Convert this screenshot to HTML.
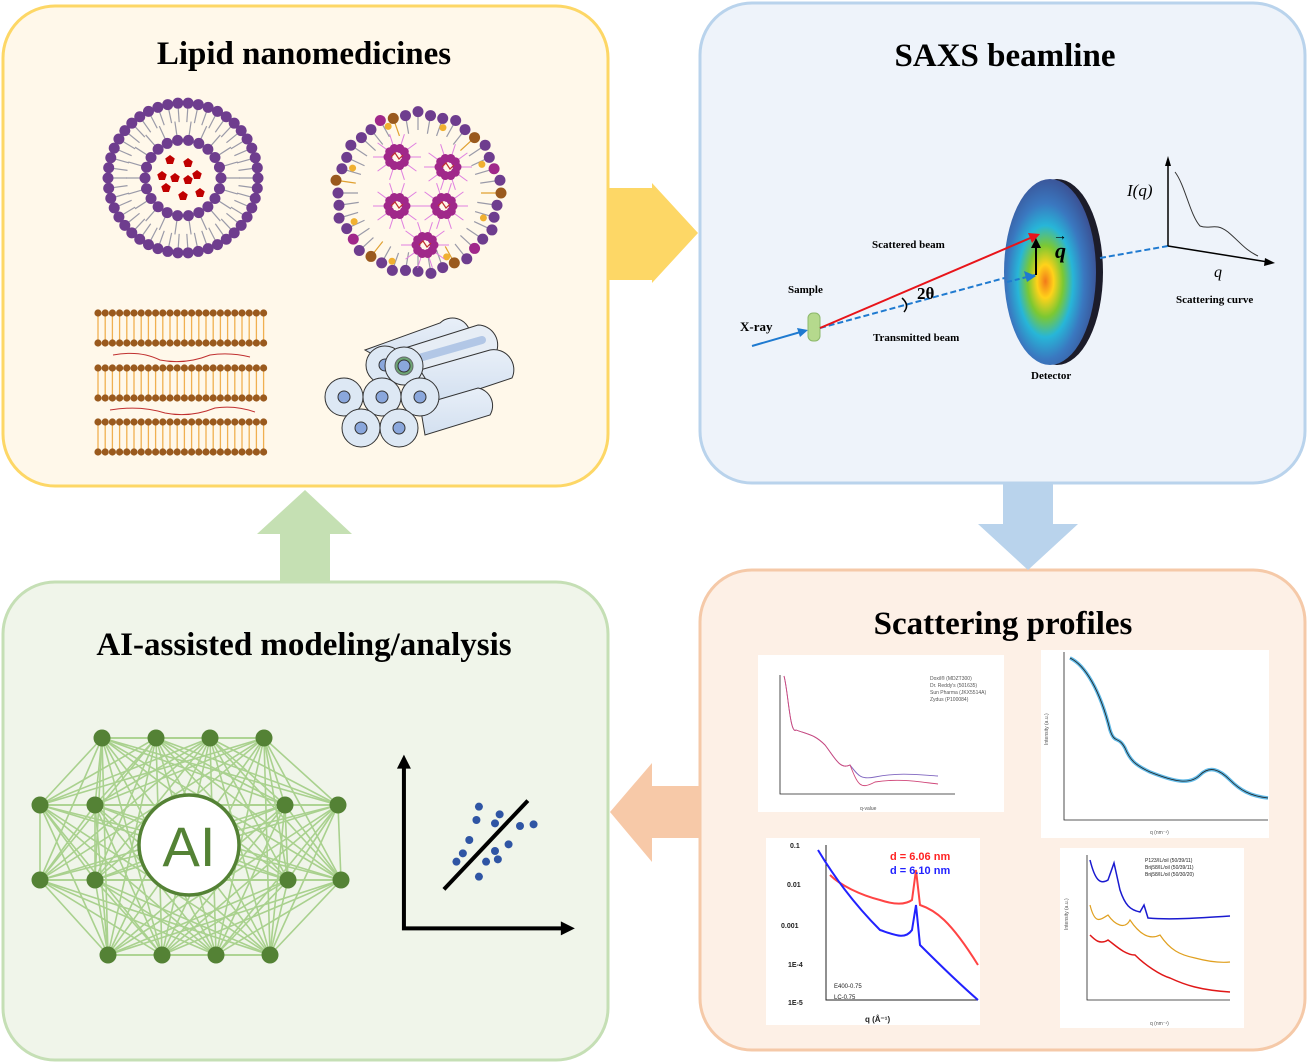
<!DOCTYPE html>
<html><head><meta charset="utf-8">
<style>
html,body{margin:0;padding:0;background:#fff;}
svg{display:block;}
.t{font-family:"Liberation Serif",serif;font-weight:bold;}
.s{font-family:"Liberation Sans",sans-serif;}
</style></head>
<body>
<svg id="sv" width="1308" height="1064" viewBox="0 0 1308 1064" xmlns="http://www.w3.org/2000/svg">
<defs>
<radialGradient id="det" cx="0.45" cy="0.55" r="0.6">
<stop offset="0" stop-color="#f27a1a"/>
<stop offset="0.15" stop-color="#ffd21a"/>
<stop offset="0.32" stop-color="#7cc832"/>
<stop offset="0.5" stop-color="#27b6d8"/>
<stop offset="0.7" stop-color="#3a78c0"/>
<stop offset="1" stop-color="#3b4a8c"/>
</radialGradient>
<linearGradient id="cyl" x1="0" y1="0" x2="0" y2="1"><stop offset="0" stop-color="#e8eff8"/><stop offset="1" stop-color="#d3e0f0"/></linearGradient>
</defs>
<rect x="3" y="6" width="605" height="480" rx="52" fill="#fff8ea" stroke="#fdd766" stroke-width="3"/>
<rect x="700" y="3" width="605" height="480" rx="52" fill="#eef3fa" stroke="#b9d3ec" stroke-width="3"/>
<rect x="700" y="570" width="605" height="480" rx="52" fill="#fdf0e6" stroke="#f5c9a8" stroke-width="3"/>
<rect x="3" y="582" width="605" height="478" rx="52" fill="#f0f5ea" stroke="#c5dfb5" stroke-width="3"/>
<polygon points="608,188 652,188 652,183 698,233 652,283 652,280 608,280" fill="#fdd766"/>
<polygon points="1003,484 1053,484 1053,524 1078,524 1028,570 978,524 1003,524" fill="#b9d3ec"/>
<polygon points="700,786 652,786 652,763 610,812 652,862 652,838 700,838" fill="#f7c9a8"/>
<polygon points="280,582 330,582 330,534 352,534 305,490 257,534 280,534" fill="#c5e0b3"/>
<text class="t" x="304" y="64" font-size="33" text-anchor="middle">Lipid nanomedicines</text>
<text class="t" x="1005" y="66" font-size="33" text-anchor="middle">SAXS beamline</text>
<text class="t" x="1003" y="634" font-size="33" text-anchor="middle">Scattering profiles</text>
<text class="t" x="304" y="655" font-size="33" text-anchor="middle">AI-assisted modeling/analysis</text>
<g id="g1"></g>
<g stroke="#333" stroke-width="1">
<path d="M365,350 L440,323 A18,18 0 0 1 470,340 L395,367 Z" fill="url(#cyl)"/>
<path d="M405,348 L478,325 A20,20 0 0 1 495,355 L420,380 Z" fill="#e6edf5"/>
<path d="M420,370 L490,350 A20,20 0 0 1 512,378 L440,402 Z" fill="url(#cyl)"/>
<path d="M420,405 L478,388 A18,18 0 0 1 490,415 L425,435 Z" fill="url(#cyl)"/>
<line x1="405" y1="362" x2="482" y2="340" stroke="#b2c7e6" stroke-width="8" stroke-linecap="round"/>
<circle cx="385" cy="365" r="19" fill="#dde8f4"/><circle cx="385" cy="365" r="6" fill="#8aa7dc"/>
<circle cx="404" cy="366" r="19" fill="#dde8f4"/><circle cx="404" cy="366" r="9" fill="#3e8a3e" opacity="0.7"/><circle cx="404" cy="366" r="6" fill="#8aa7dc"/>
<circle cx="344" cy="397" r="19" fill="#dde8f4"/><circle cx="344" cy="397" r="6" fill="#8aa7dc"/>
<circle cx="420" cy="397" r="19" fill="#dde8f4"/><circle cx="420" cy="397" r="6" fill="#8aa7dc"/>
<circle cx="382" cy="397" r="19" fill="#dde8f4"/><circle cx="382" cy="397" r="6" fill="#8aa7dc"/>
<circle cx="361" cy="428" r="19" fill="#dde8f4"/><circle cx="361" cy="428" r="6" fill="#8aa7dc"/>
<circle cx="399" cy="428" r="19" fill="#dde8f4"/><circle cx="399" cy="428" r="6" fill="#8aa7dc"/>
</g>
<line x1="752" y1="346" x2="804" y2="331" stroke="#1f7ad0" stroke-width="2"/>
<polygon points="808,330 797,328 800,337" fill="#1f7ad0"/>
<rect x="808" y="313" width="12" height="28" rx="5" fill="#b5d98d" stroke="#8cb86a"/>
<line x1="820" y1="328" x2="1012" y2="276" stroke="#1f7ad0" stroke-width="2" stroke-dasharray="6,3"/>
<ellipse cx="1057" cy="272" rx="46" ry="93" fill="#1c1c2a"/>
<ellipse cx="1050" cy="272" rx="46" ry="93" fill="url(#det)"/>
<line x1="1100" y1="258" x2="1168" y2="246" stroke="#1f7ad0" stroke-width="2" stroke-dasharray="6,3"/>
<line x1="1007" y1="282" x2="1035" y2="275" stroke="#1f7ad0" stroke-width="2" stroke-dasharray="5,3"/>
<polygon points="1036,276 1024,271 1027,282" fill="#1f7ad0"/>
<line x1="820" y1="328" x2="1035" y2="236" stroke="#e8141a" stroke-width="2"/>
<polygon points="1040,234 1028,233 1032,243" fill="#e8141a"/>
<line x1="1036" y1="275" x2="1036" y2="246" stroke="#000" stroke-width="2"/>
<polygon points="1036,238 1031,248 1041,248" fill="#000"/>
<text class="t" x="1055" y="258" font-size="22" font-style="italic">q</text>
<text class="t" x="1053" y="240" font-size="14">→</text>
<path d="M902,298 Q910,305 904,312" fill="none" stroke="#000" stroke-width="1.5"/>
<text class="t" x="917" y="299" font-size="17">2θ</text>
<text class="t" x="872" y="248" font-size="11">Scattered beam</text>
<text class="t" x="788" y="293" font-size="11">Sample</text>
<text class="t" x="740" y="331" font-size="13">X-ray</text>
<text class="t" x="873" y="341" font-size="11">Transmitted beam</text>
<text class="t" x="1031" y="379" font-size="11">Detector</text>
<text class="t" x="1176" y="303" font-size="11">Scattering curve</text>
<line x1="1168" y1="246" x2="1168" y2="162" stroke="#000" stroke-width="1.5"/>
<polygon points="1168,156 1165,166 1171,166" fill="#000"/>
<line x1="1168" y1="246" x2="1268" y2="262" stroke="#000" stroke-width="1.5"/>
<polygon points="1275,263 1265,258 1264,266" fill="#000"/>
<path d="M1175,172 C1185,185 1190,215 1200,226 C1210,230 1215,222 1228,232 C1240,242 1245,250 1258,256" fill="none" stroke="#333"/>
<text x="1127" y="196" font-size="17" font-family="Liberation Serif,serif" font-style="italic">I(q)</text>
<text x="1214" y="277" font-size="16" font-family="Liberation Serif,serif" font-style="italic">q</text>
<rect x="758" y="655" width="246" height="157" fill="#fff"/>
<rect x="1041" y="650" width="228" height="188" fill="#fff"/>
<rect x="766" y="838" width="214" height="187" fill="#fff"/>
<rect x="1060" y="848" width="184" height="180" fill="#fff"/>
<g class="s" font-size="5" fill="#555">
<path d="M780,675 L780,794 L955,794" fill="none" stroke="#222" stroke-width="0.8"/>
<path d="M784,676 C788,690 790,735 796,730 C810,735 815,735 825,745 C835,758 840,770 850,765 C858,775 860,780 875,777 C900,772 920,775 938,776" fill="none" stroke="#8066c0" stroke-width="0.9"/>
<path d="M784,676 C788,690 790,735 796,730 C810,735 815,735 825,745 C835,758 840,770 850,765 C858,785 860,790 875,782 C900,778 920,782 938,784" fill="none" stroke="#d0487a" stroke-width="0.9"/>
<text x="930" y="680">Doxil® (MDZT300)</text><text x="930" y="687">Dr. Reddy's (501635)</text><text x="930" y="694">Sun Pharma (JKX5514A)</text><text x="930" y="701">Zydus (P100084)</text>
<text x="860" y="810">q-value</text>
<path d="M1064,652 L1064,820 L1268,820" fill="none" stroke="#222" stroke-width="0.8"/>
<path d="M1070,658 C1085,665 1100,690 1110,730 C1115,745 1118,735 1125,748 C1130,760 1135,765 1150,772 C1175,782 1190,785 1200,775 C1210,765 1220,770 1230,780 C1240,790 1250,796 1268,798" fill="none" stroke="#3aa8e0" stroke-width="3.5" opacity="0.8"/>
<path d="M1070,658 C1085,665 1100,690 1110,730 C1115,745 1118,735 1125,748 C1130,760 1135,765 1150,772 C1175,782 1190,785 1200,775 C1210,765 1220,770 1230,780 C1240,790 1250,796 1268,798" fill="none" stroke="#222" stroke-width="0.8"/>
<text x="1058" y="755" transform="rotate(-90 1048 755)">Intensity (a.u.)</text>
<text x="1150" y="834">q (nm⁻¹)</text>
<path d="M826,845 L826,1000 L978,1000" fill="none" stroke="#222" stroke-width="1"/>
<path d="M830,875 C840,885 860,895 880,900 C895,905 905,905 912,900 L916,870 L920,905 C935,910 950,920 978,965" fill="none" stroke="#f44" stroke-width="2"/>
<path d="M818,850 C830,870 850,900 880,930 C895,935 905,940 912,930 L916,905 L920,945 C935,960 955,980 978,1000" fill="none" stroke="#22f" stroke-width="2"/>
<text x="890" y="860" font-size="11" font-weight="bold" fill="#f22">d = 6.06 nm</text>
<text x="890" y="874" font-size="11" font-weight="bold" fill="#22f">d = 6.10 nm</text>
<text x="790" y="848" font-size="7" font-weight="bold" fill="#222">0.1</text>
<text x="787" y="887" font-size="7" font-weight="bold" fill="#222">0.01</text>
<text x="781" y="928" font-size="7" font-weight="bold" fill="#222">0.001</text>
<text x="788" y="967" font-size="7" font-weight="bold" fill="#222">1E-4</text>
<text x="788" y="1005" font-size="7" font-weight="bold" fill="#222">1E-5</text>
<text x="834" y="988" font-size="6" fill="#222">E400-0.75</text><text x="834" y="999" font-size="6" fill="#222">LC-0.75</text>
<text x="865" y="1022" font-size="8" font-weight="bold" fill="#222">q (Å⁻¹)</text>
<path d="M1087,855 L1087,1000 L1230,1000" fill="none" stroke="#222" stroke-width="0.8"/>
<path d="M1090,860 C1095,880 1100,885 1108,880 L1114,863 L1120,890 C1125,905 1130,910 1140,912 L1144,905 L1148,918 C1170,920 1200,918 1230,916" fill="none" stroke="#1a1ad0" stroke-width="1.5"/>
<path d="M1090,905 C1095,925 1100,920 1108,915 C1115,925 1125,930 1130,920 C1140,935 1150,940 1160,935 C1170,950 1180,955 1195,958 C1210,962 1220,963 1230,962" fill="none" stroke="#e0a020" stroke-width="1.2"/>
<path d="M1090,935 C1095,940 1100,945 1108,940 C1115,945 1125,955 1135,955 C1145,965 1160,975 1170,978 C1185,985 1200,990 1230,992" fill="none" stroke="#e01818" stroke-width="1.5"/>
<text x="1068" y="930" transform="rotate(-90 1068 930)">Intensity (a.u.)</text>
<text x="1150" y="1025">q (nm⁻¹)</text>
<text x="1145" y="862" fill="#222">P123/IL/oil (50/39/11)</text><text x="1145" y="869" fill="#222">Brij58/IL/oil (50/39/11)</text><text x="1145" y="876" fill="#222">Brij58/IL/oil (50/30/20)</text>
</g>
<g id="net" stroke="#a9d18e" stroke-width="1.6"></g>
<g id="nodes" fill="#548235"></g>
<circle cx="189" cy="845" r="50" fill="#fff" stroke="#548235" stroke-width="3.5"/>
<text x="189" y="866" font-size="56" text-anchor="middle" fill="#548235" font-family="Liberation Sans,sans-serif">AI</text>
<g id="sc"></g>
</svg>
<script>
var NS="http://www.w3.org/2000/svg";
function el(p,t,a){var e=document.createElementNS(NS,t);for(var k in a)e.setAttribute(k,a[k]);p.appendChild(e);return e;}
var g1=document.getElementById('g1');
function ring(cx,cy,r,n,rt,col,hr,tc){for(var i=0;i<n;i++){var a=2*Math.PI*i/n;var x=cx+r*Math.cos(a),y=cy+r*Math.sin(a);var x2=cx+(r+rt)*Math.cos(a),y2=cy+(r+rt)*Math.sin(a);el(g1,'line',{x1:x,y1:y,x2:x2,y2:y2,stroke:tc,'stroke-width':1.2});el(g1,'circle',{cx:x,cy:y,r:hr,fill:col});}}
ring(183,178,75,46,-19,'#6e3d8e',5.5,'#9a9aa8');
ring(183,178,38,22,19,'#6e3d8e',5.5,'#9a9aa8');
[[170,160],[188,163],[162,176],[175,178],[188,180],[197,175],[166,188],[183,196],[200,193]].forEach(function(p){var s='';for(var i=0;i<5;i++){var a=-Math.PI/2+2*Math.PI*i/5;s+=(p[0]+5*Math.cos(a))+','+(p[1]+5*Math.sin(a))+' ';}el(g1,'polygon',{points:s,fill:'#c00000'});});
for(var i=0;i<40;i++){var a=2*Math.PI*i/40;var r=80+ (i%3==0?3:0);var x=418+r*Math.cos(a),y=193+r*Math.sin(a)*0.98;var br=i%7==0;el(g1,'line',{x1:x,y1:y,x2:418+(r-20)*Math.cos(a),y2:193+(r-20)*Math.sin(a),stroke:br?'#e0a030':'#9a9aa8','stroke-width':1.2});el(g1,'circle',{cx:x,cy:y,r:5.5,fill:br?'#9a5a1e':(i%11==5?'#a0288a':'#6e3d8e')});if(i%5==2){el(g1,'circle',{cx:418+(r-10)*Math.cos(a+0.05),cy:193+(r-10)*Math.sin(a+0.05),r:3.5,fill:'#f0b030'});}}
[[397,157],[448,167],[397,206],[444,206],[425,245]].forEach(function(c){for(var j=0;j<10;j++){var a=2*Math.PI*j/10;el(g1,'line',{x1:c[0]+8*Math.cos(a),y1:c[1]+8*Math.sin(a),x2:c[0]+24*Math.cos(a),y2:c[1]+24*Math.sin(a),stroke:'#e080e0','stroke-width':1});el(g1,'circle',{cx:c[0]+9*Math.cos(a),cy:c[1]+9*Math.sin(a),r:4.5,fill:'#a0288a'});}el(g1,'path',{d:'M'+(c[0]-6)+','+c[1]+' l4,-4 l4,6 l4,-4',fill:'none',stroke:'#c03030','stroke-width':1.2});});
[[313,343],[368,398],[422,452]].forEach(function(r){for(var x=98;x<=264;x+=7.2){el(g1,'line',{x1:x,y1:r[0],x2:x,y2:r[1],stroke:'#f0b050','stroke-width':1.3});el(g1,'circle',{cx:x,cy:r[0],r:3.6,fill:'#9a5a1e'});el(g1,'circle',{cx:x,cy:r[1],r:3.6,fill:'#9a5a1e'});}});
el(g1,'path',{d:'M113,355 Q140,350 160,360 Q185,365 210,355 Q230,352 250,357',fill:'none',stroke:'#c03030','stroke-width':1});
el(g1,'path',{d:'M110,410 Q140,405 165,413 Q190,418 215,408 Q235,405 255,412',fill:'none',stroke:'#c03030','stroke-width':1});
var N=[[102,738],[156,738],[210,738],[264,738],[40,805],[95,805],[285,805],[338,805],[40,880],[95,880],[288,880],[341,880],[108,955],[162,955],[216,955],[270,955]];
var net=document.getElementById('net'),nd=document.getElementById('nodes');
for(var i=0;i<N.length;i++)for(var j=i+1;j<N.length;j++)el(net,'line',{x1:N[i][0],y1:N[i][1],x2:N[j][0],y2:N[j][1]});
N.forEach(function(p){el(nd,'circle',{cx:p[0],cy:p[1],r:8.5});});
var sc=document.getElementById('sc');function T(x,y){return [x/2.8+20,y/3+720];}
var a=T(1075,140),b=T(1075,625),c=T(1520,625);
el(sc,'path',{d:'M'+a+' L'+b+' L'+c,fill:'none',stroke:'#000','stroke-width':4});
el(sc,'polygon',{points:(a[0]-7)+','+(a[1]+2)+' '+(a[0]+7)+','+(a[1]+2)+' '+a[0]+','+(a[1]-12),fill:'#000'});
el(sc,'polygon',{points:(c[0]-2)+','+(c[1]-7)+' '+(c[0]-2)+','+(c[1]+7)+' '+(c[0]+12)+','+c[1],fill:'#000'});
var l1=T(1187,508),l2=T(1422,242);el(sc,'line',{x1:l1[0],y1:l1[1],x2:l2[0],y2:l2[1],stroke:'#000','stroke-width':4});
[[1285,260],[1278,300],[1343,283],[1330,310],[1400,318],[1438,313],[1258,360],[1240,400],[1222,425],[1368,373],[1330,393],[1305,425],[1338,418],[1285,470]].forEach(function(p){var q=T(p[0],p[1]);el(sc,'circle',{cx:q[0],cy:q[1],r:4,fill:'#2f55a4'});});
</script>
</body></html>
